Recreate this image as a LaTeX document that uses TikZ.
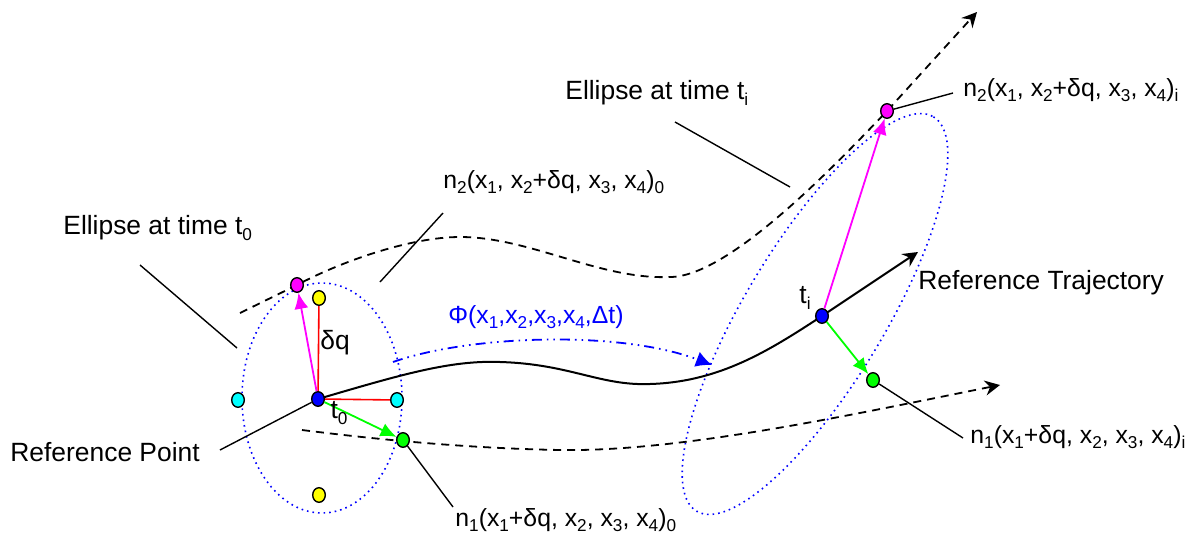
\documentclass[tikz,border=0pt]{standalone}
\usepackage{fontspec}
\setmainfont{Liberation Sans}
\usetikzlibrary{arrows.meta,backgrounds,shapes.geometric}
\definecolor{dotblue}{RGB}{0,0,255}
\definecolor{dotmag}{RGB}{255,0,255}
\definecolor{dotcyan}{RGB}{0,255,255}
\definecolor{dotyellow}{RGB}{255,255,0}
\definecolor{dotgreen}{RGB}{0,255,0}
\definecolor{linered}{RGB}{255,0,0}
\newcommand{\sbs}[1]{\raisebox{-0.4ex}{\fontsize{8.6}{9}\selectfont #1}}
\tikzset{
  dot/.style={ellipse,draw,line width=0.7pt,inner sep=0pt,minimum width=6.3pt,minimum height=7.3pt},
  pointer/.style={line width=0.7pt},
  path/.style={line width=0.9pt,dash pattern=on 4pt off 3pt},
  tipvec/.style={line width=0.9pt,-{Latex[length=8pt,width=7pt]}},
  label/.style={anchor=west,inner sep=0pt},
  formula/.style={label,font=\fontsize{12.4}{15}\selectfont},
}
\begin{document}
\begin{tikzpicture}[x=0.5pt,y=-0.5pt,font=\fontsize{13.2}{15}\selectfont,>={Stealth[length=7.5pt,width=7.5pt,inset=2.5pt]}]
  \useasboundingbox (0,0) rectangle (1200,536);
  % points at time t0
  \node[dot,fill=dotblue] (pt0) at (318,399) {};
  \node[dot,fill=dotyellow] (yup) at (319,298) {};
  \node[dot,fill=dotyellow] (ydn) at (319,495) {};
  \node[dot,fill=dotcyan] (cl) at (238,400) {};
  \node[dot,fill=dotcyan] (cr) at (397,400) {};
  \node[dot,fill=dotmag] (mg0) at (297,285) {};
  \node[dot,fill=dotgreen] (gr0) at (403,440) {};
  % points at time ti
  \node[dot,fill=dotblue] (pti) at (822,316) {};
  \node[dot,fill=dotmag] (mgi) at (887,111) {};
  \node[dot,fill=dotgreen] (gri) at (873,380) {};
  % free ends
  \coordinate (up0) at (240,313);
  \coordinate (upend) at (977,12);
  \coordinate (lo0) at (302,430);
  \coordinate (loend) at (1000,385);
  \coordinate (refend) at (918,252);
  \begin{scope}[on background layer]
    % ellipses
    \draw[dotblue,dotted,line width=0.8pt] (322,398) ellipse [x radius=80,y radius=115];
    \draw[dotblue,dotted,line width=0.8pt,rotate around={59:(815,314)}] (815,314) ellipse [x radius=230,y radius=70];
    % reference trajectory
    \draw[line width=1pt,->] (pt0.center) .. controls (400,375) and (450,360) .. (500,362)
      .. controls (570,364) and (600,386) .. (650,384)
      .. controls (720,382) and (770,350) .. (pti.center) -- (refend);
    % neighbour trajectories
    \draw[path,->] (up0) -- (mg0.center) .. controls (340,262) and (410,237) .. (460,237)
      .. controls (530,237) and (600,280) .. (670,277)
      .. controls (730,277) and (840,160) .. (mgi.center) -- (upend);
    \draw[path,->] (lo0) .. controls (350,436) and (450,448) .. (560,450)
      .. controls (680,452) and (850,415) .. (loend);
  \end{scope}
  % deviations
  \draw[linered,line width=0.8pt] (pt0) -- (yup);
  \draw[linered,line width=0.8pt] (pt0) -- (cr);
  \draw[dotmag,tipvec] (pt0) -- (mg0);
  \draw[dotgreen,tipvec] (pt0) -- (gr0);
  \draw[dotmag,tipvec] (pti) -- (mgi);
  \draw[dotgreen,tipvec] (pti) -- (gri);
  % flow map
  \draw[dotblue,line width=0.9pt,dash pattern=on 5pt off 2.5pt on 0.8pt off 2.5pt on 0.8pt off 2.5pt,-{Latex[length=8pt,width=8pt]}]
    (393,362) .. controls (470,335) and (620,330) .. (712,365);
  \node[formula,dotblue] (phi) at (448,317) {Φ(x\sbs{1},x\sbs{2},x\sbs{3},x\sbs{4},Δt)};
  % small labels
  \node (dq) at (335,343) {δq};
  \node (lt0) at (339,413) {t\sbs{0}};
  \node (lti) at (805,298) {t\sbs{i}};
  % labels
  \node[label] (el0) at (63,228) {Ellipse at time t\sbs{0}};
  \node[label] (refpt) at (10,452) {Reference Point};
  \node[formula] (n20) at (443,182) {n\sbs{2}(x\sbs{1}, x\sbs{2}+δq, x\sbs{3}, x\sbs{4})\sbs{0}};
  \node[formula] (n10) at (455,520) {n\sbs{1}(x\sbs{1}+δq, x\sbs{2}, x\sbs{3}, x\sbs{4})\sbs{0}};
  \node[label] (eli) at (565,93) {Ellipse at time t\sbs{i}};
  \node[formula] (n2i) at (963,90) {n\sbs{2}(x\sbs{1}, x\sbs{2}+δq, x\sbs{3}, x\sbs{4})\sbs{i}};
  \node[label] (reftr) at (918,283) {Reference Trajectory};
  \node[formula] (n1i) at (970,437) {n\sbs{1}(x\sbs{1}+δq, x\sbs{2}, x\sbs{3}, x\sbs{4})\sbs{i}};
  % pointer lines
  \coordinate (el0a) at (140,265);
  \coordinate (el0b) at (237,348);
  \coordinate (refa) at (220,450);
  \coordinate (n20a) at (443,213);
  \coordinate (n20b) at (380,282);
  \coordinate (n10b) at (453,507);
  \coordinate (elia) at (675,122);
  \coordinate (elib) at (790,187);
  \coordinate (n2ib) at (953,93);
  \coordinate (n1ib) at (963,438);
  \draw[pointer] (el0a) -- (el0b);
  \draw[pointer] (refa) -- (pt0);
  \draw[pointer] (n20a) -- (n20b);
  \draw[pointer] (gr0) -- (n10b);
  \draw[pointer] (elia) -- (elib);
  \draw[pointer] (mgi) -- (n2ib);
  \draw[pointer] (gri) -- (n1ib);
\end{tikzpicture}
\end{document}
